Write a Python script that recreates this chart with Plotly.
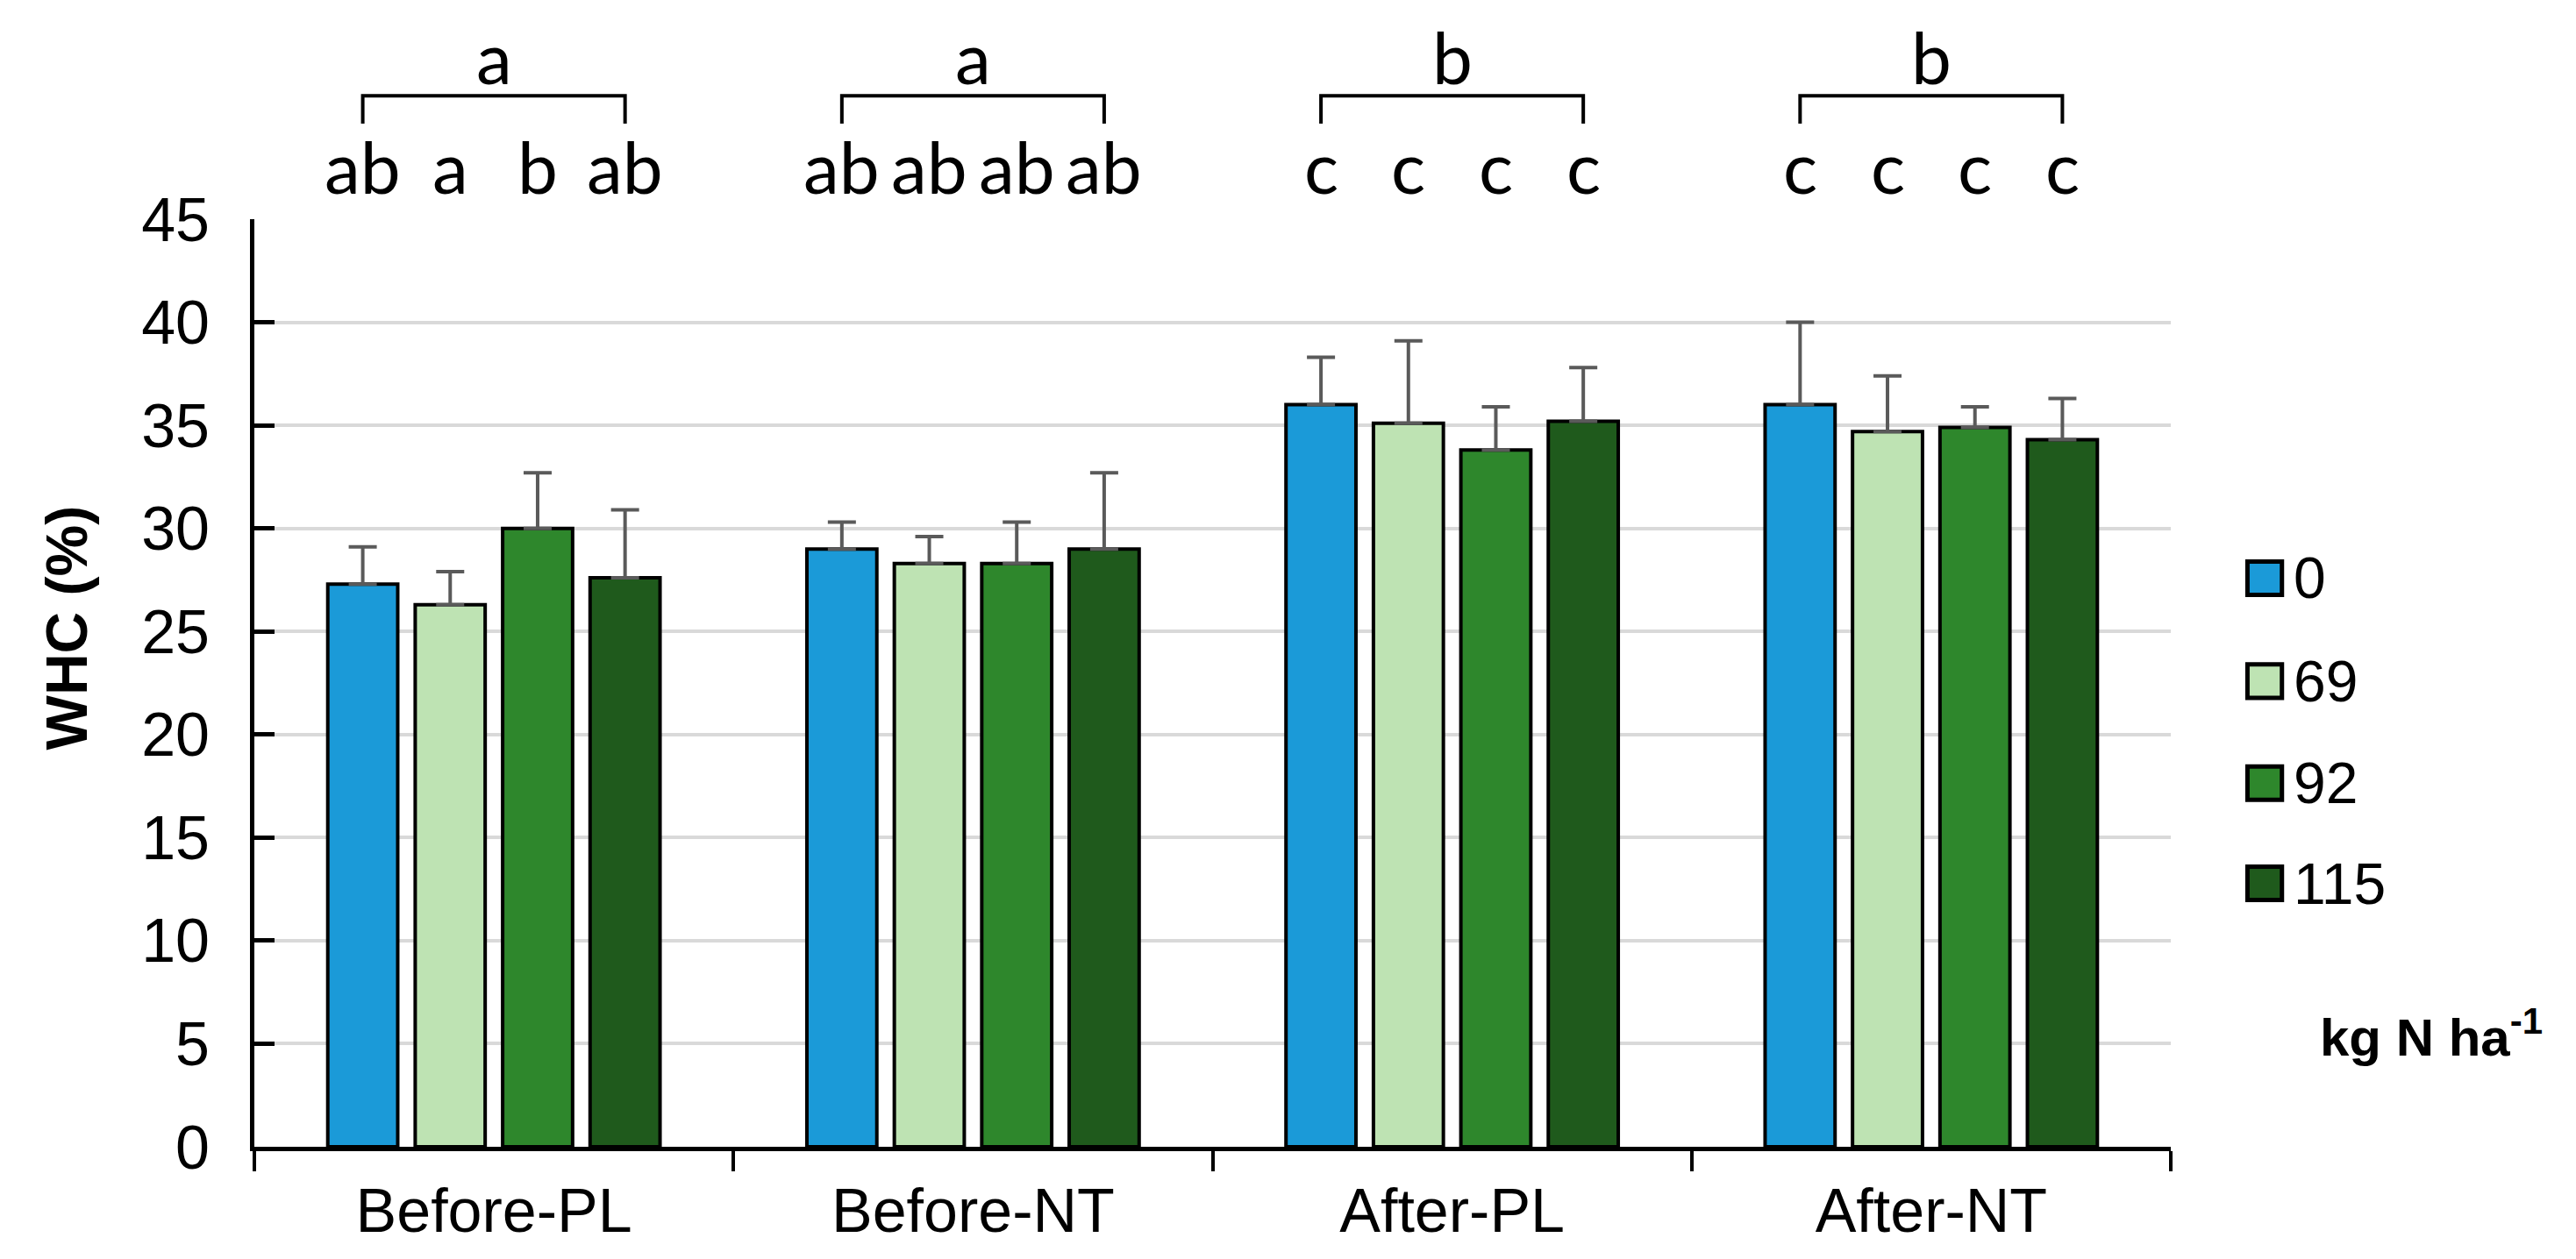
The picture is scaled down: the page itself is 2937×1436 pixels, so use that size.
import plotly.graph_objects as go

# Datos
categorias = ["Before-PL", "Before-NT", "After-PL", "After-NT"]
dosis = ["0", "69", "92", "115"]

whc_0 = [27.3, 29.0, 36.0, 36.0]
whc_69 = [26.3, 28.3, 35.1, 34.7]
whc_92 = [30.0, 28.3, 33.8, 34.9]
whc_115 = [27.6, 29.0, 35.2, 34.3]

err_0 = [1.8, 1.3, 2.3, 4.0]
err_69 = [1.6, 1.3, 4.0, 2.7]
err_92 = [2.7, 2.0, 2.1, 1.0]
err_115 = [3.3, 3.7, 2.6, 2.0]

# letras por barra (grupo x dosis) y letras por grupo
letras_barra = [
    ["ab", "a", "b", "ab"],
    ["ab", "ab", "ab", "ab"],
    ["c", "c", "c", "c"],
    ["c", "c", "c", "c"],
]
letras_grupo = ["a", "a", "b", "b"]

colores = ["#1B9AD8", "#BEE3B3", "#2E872C", "#1F5A1C"]

valores = [whc_0, whc_69, whc_92, whc_115]
errores = [err_0, err_69, err_92, err_115]

BARGAP = 0.27
SLOT = (1 - BARGAP) / len(dosis)
LETRA = dict(family="Lato", size=82, color="black")

fig = go.Figure()

for i, d in enumerate(dosis):
    fig.add_trace(go.Bar(
        x=categorias,
        y=valores[i],
        name=d,
        marker=dict(color=colores[i], line=dict(color="black", width=4)),
        error_y=dict(
            type="data",
            symmetric=False,
            array=errores[i],
            arrayminus=[0] * len(categorias),
            color="#5A5A5A",
            thickness=4,
            width=16,
        ),
        showlegend=False,
    ))

# letras sobre cada barra y corchetes por grupo
for g in range(len(categorias)):
    for i in range(len(dosis)):
        fig.add_annotation(
            x=g + (i - 1.5) * SLOT, y=1.058, xref="x", yref="paper",
            yanchor="middle", text=letras_barra[g][i], showarrow=False,
            font=LETRA,
        )
    x0 = g - 1.5 * SLOT
    x1 = g + 1.5 * SLOT
    fig.add_shape(
        type="path", xref="x", yref="paper",
        path=f"M {x0},1.103 L {x0},1.133 L {x1},1.133 L {x1},1.103",
        line=dict(color="black", width=4),
    )
    fig.add_annotation(
        x=g, y=1.176, xref="x", yref="paper",
        yanchor="middle", text=letras_grupo[g], showarrow=False,
        font=LETRA,
    )

# leyenda manual
leg_y = [0.613, 0.502, 0.392, 0.284]
for i, d in enumerate(dosis):
    fig.add_shape(
        type="rect", xref="paper", yref="paper",
        x0=1.040, x1=1.058, y0=leg_y[i] - 0.018, y1=leg_y[i] + 0.018,
        fillcolor=colores[i], line=dict(color="black", width=5),
    )
    fig.add_annotation(
        x=1.063, y=leg_y[i], xref="paper", yref="paper",
        xanchor="left", yanchor="middle",
        text=d, showarrow=False,
        font=dict(family="Liberation Sans", size=66, color="black"),
    )

fig.add_annotation(
    x=1.077, y=0.122, xref="paper", yref="paper",
    xanchor="left", yanchor="middle",
    text="<b>kg N ha<sup>-1</sup></b>", showarrow=False,
    font=dict(family="Liberation Sans", size=60, color="black"),
)

# título eje y
fig.add_annotation(
    x=-0.098, y=0.56, xref="paper", yref="paper",
    xanchor="center", yanchor="middle", textangle=-90,
    text="<b>WHC (%)</b>", showarrow=False,
    font=dict(family="Liberation Sans", size=66, color="black"),
)

fig.update_layout(
    width=2937, height=1436,
    margin=dict(l=282, r=470, t=242, b=136),
    barmode="group", bargap=BARGAP, bargroupgap=0.2,
    plot_bgcolor="white", paper_bgcolor="white",
    font=dict(family="Liberation Sans", color="black"),
)

fig.update_yaxes(
    range=[0, 45], dtick=5,
    showgrid=True, gridcolor="#D9D9D9", gridwidth=4,
    showline=True, linecolor="black", linewidth=5,
    ticks="inside", ticklen=23, tickwidth=5, tickcolor="black",
    tickfont=dict(size=70), ticklabelstandoff=32,
    zeroline=False,
)

fig.update_xaxes(
    showline=True, linecolor="black", linewidth=5,
    ticks="outside", tickson="boundaries", ticklen=23, tickwidth=4, tickcolor="black",
    tickfont=dict(size=70), ticklabelstandoff=8,
    showgrid=False,
)

fig.write_html("out.html")
